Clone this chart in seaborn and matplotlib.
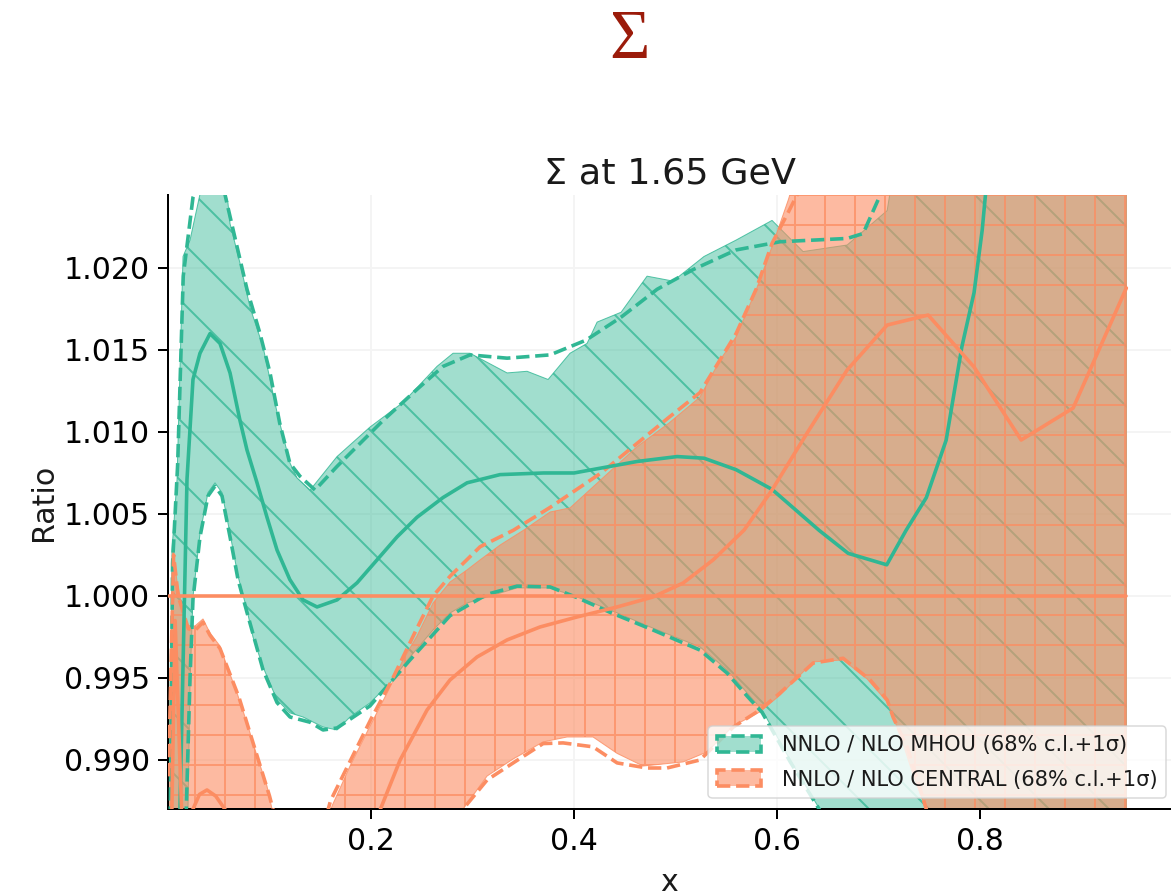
import numpy as np
import matplotlib
matplotlib.use("Agg")
import matplotlib.pyplot as plt
import matplotlib.colors as mcolors
from matplotlib.patches import Patch
from matplotlib.ticker import MultipleLocator, FormatStrFormatter
import seaborn as sns

# ---------------- NNLO / NLO MHOU ----------------
mhou_cv_x = [0.0005, 0.0118, 0.0187, 0.0246, 0.0315, 0.0414, 0.0512, 0.0611, 0.0709, 0.0778,
             0.0877, 0.0975, 0.1074, 0.120, 0.133, 0.1468, 0.1665, 0.1862, 0.2059, 0.2256,
             0.2453, 0.2709, 0.2946, 0.3271, 0.370, 0.400, 0.4266, 0.462, 0.5015, 0.528,
             0.5596, 0.595, 0.6414, 0.670, 0.708, 0.727, 0.747, 0.7665, 0.782, 0.794,
             0.802, 0.812, 0.944]
mhou_cv = [0.9600, 0.9870, 1.0071, 1.0132, 1.0148, 1.0160, 1.0154, 1.0136, 1.0107, 1.0089,
           1.0069, 1.0048, 1.0028, 1.0010, 0.99976, 0.99933, 0.99976, 1.0008, 1.0022, 1.0036,
           1.0048, 1.0060, 1.0069, 1.0074, 1.0075, 1.0075, 1.0078, 1.0082, 1.0085, 1.0084,
           1.0077, 1.0065, 1.0040, 1.0026, 1.0019, 1.0040, 1.0060, 1.0095, 1.0152, 1.0185,
           1.0223, 1.0290, 1.0600]

mhou_hi_x = [0.0005, 0.0039, 0.0089, 0.0148, 0.0217, 0.0315, 0.045, 0.059, 0.0611, 0.0709,
             0.0808, 0.0936, 0.1074, 0.1202, 0.1271, 0.140, 0.1665, 0.199, 0.2315, 0.265,
             0.2808, 0.2975, 0.334, 0.3537, 0.3744, 0.396, 0.4128, 0.4227, 0.4463, 0.4719,
             0.4975, 0.528, 0.5596, 0.595, 0.6256, 0.669, 0.7084, 0.711, 0.750, 0.944]
mhou_hi = [0.9750, 1.0028, 1.0071, 1.0207, 1.0217, 1.0245, 1.0270, 1.0240, 1.0227, 1.0203,
           1.0176, 1.0152, 1.0112, 1.0081, 1.0072, 1.00646, 1.0085, 1.0103, 1.0118, 1.0140,
           1.0148, 1.0148, 1.0136, 1.0137, 1.0132, 1.0148, 1.0154, 1.0167, 1.0173, 1.0195,
           1.0192, 1.0207, 1.0217, 1.0229, 1.0210, 1.0214, 1.0235, 1.0245, 1.0320, 1.0400]

mhou_lo_x = [0.0005, 0.0197, 0.0217, 0.0246, 0.0315, 0.0394, 0.0463, 0.0532, 0.0611, 0.069,
             0.0778, 0.0837, 0.0936, 0.1074, 0.1202, 0.133, 0.1527, 0.1665, 0.1793, 0.199,
             0.2187, 0.2384, 0.2611, 0.2778, 0.2946, 0.3143, 0.3438, 0.3764, 0.403, 0.4355,
             0.4749, 0.5241, 0.5507, 0.5704, 0.5852, 0.6128, 0.6424, 0.700, 0.944]
mhou_lo = [0.9600, 0.9870, 0.9947, 0.99994, 1.0038, 1.0063, 1.0069, 1.0063, 1.0038, 1.0012,
           0.99915, 0.9975, 0.99567, 0.99366, 0.99287, 0.99262, 0.99201, 0.99183, 0.99262, 0.99348,
           0.9947, 0.99628, 0.99793, 0.99896, 0.99957, 0.99994, 1.00049, 1.00049, 0.99994, 0.99915,
           0.99811, 0.99689, 0.99549, 0.99409, 0.99305, 0.9900, 0.98695, 0.9800, 0.9750]

mhou_sd_hi_x = [0.0005, 0.0045, 0.0095, 0.0150, 0.0246, 0.045, 0.059, 0.068, 0.0778, 0.0906,
                0.1005, 0.110, 0.120, 0.130, 0.1448, 0.1665, 0.2118, 0.2453, 0.271, 0.2975,
                0.334, 0.3764, 0.4118, 0.4463, 0.4818, 0.5172, 0.5596, 0.603, 0.669, 0.6847,
                0.7005, 0.740, 0.944]
mhou_sd_hi = [0.9750, 1.0020, 1.0080, 1.0195, 1.0243, 1.0275, 1.0237, 1.0213, 1.0187, 1.0160,
              1.0136, 1.01055, 1.0081, 1.0073, 1.00646, 1.0079, 1.0107, 1.0126, 1.0140, 1.0147,
              1.0145, 1.0147, 1.0156, 1.0170, 1.0187, 1.0199, 1.0211, 1.0216, 1.0218, 1.0221,
              1.0243, 1.0320, 1.0400]

mhou_sd_lo_x = [0.0005, 0.0180, 0.0217, 0.0246, 0.0315, 0.0394, 0.0463, 0.0532, 0.0611, 0.069,
                0.0778, 0.0936, 0.1074, 0.1202, 0.140, 0.1527, 0.1665, 0.199, 0.2384, 0.2778,
                0.3143, 0.3438, 0.3764, 0.403, 0.4355, 0.4749, 0.5241, 0.5507, 0.5704, 0.5852,
                0.6128, 0.6424, 0.700, 0.944]
mhou_sd_lo = [0.9600, 0.9870, 0.9950, 0.9998, 1.0036, 1.0061, 1.0067, 1.0061, 1.0036, 1.0010,
              0.9990, 0.9955, 0.9935, 0.99262, 0.9923, 0.99183, 0.99195, 0.9933, 0.9961, 0.9988,
              1.0001, 1.0006, 1.00055, 0.9999, 0.9990, 0.9980, 0.9967, 0.9953, 0.9939, 0.9929,
              0.9899, 0.9869, 0.9800, 0.9750]

# ---------------- NNLO / NLO CENTRAL ----------------
cen_cv_x = [0.0005, 0.0070, 0.0150, 0.0246, 0.0310, 0.0384, 0.0470, 0.056, 0.080, 0.150,
            0.2089, 0.2286, 0.2552, 0.2778, 0.3044, 0.334, 0.3665, 0.403, 0.4424, 0.4778,
            0.5074, 0.537, 0.5675, 0.595, 0.6296, 0.669, 0.7084, 0.7488, 0.794, 0.8404,
            0.8916, 0.944]
cen_cv = [0.9750, 0.9985, 0.9840, 0.9870, 0.9879, 0.98817, 0.9878, 0.9870, 0.9830, 0.9780,
          0.98695, 0.98999, 0.99305, 0.99488, 0.99628, 0.99732, 0.99811, 0.99872, 0.99933, 0.99994,
          1.00079, 1.0022, 1.00402, 1.00646, 1.00994, 1.01378, 1.01652, 1.01713, 1.01396, 1.00951,
          1.01146, 1.01878]

cen_hi_x = [0.0005, 0.0049, 0.009, 0.0138, 0.0197, 0.0266, 0.0345, 0.0414, 0.0512, 0.0581,
            0.068, 0.0778, 0.0877, 0.0975, 0.1025, 0.125, 0.145, 0.1616, 0.1793, 0.199,
            0.2158, 0.2315, 0.2453, 0.2611, 0.2778, 0.2946, 0.3074, 0.327, 0.350, 0.3764,
            0.396, 0.4266, 0.462, 0.4936, 0.524, 0.5438, 0.5596, 0.5793, 0.595, 0.611,
            0.630, 0.944]
cen_hi = [0.9900, 1.0030, 1.0008, 0.9994, 0.9982, 0.99817, 0.9986, 0.99774, 0.99695, 0.99573,
          0.99409, 0.99226, 0.99024, 0.98841, 0.9870, 0.9835, 0.9838, 0.9872, 0.98963, 0.99207,
          0.99409, 0.9961, 0.99756, 0.99957, 1.00085, 1.00159, 1.0022, 1.0031, 1.0040, 1.00512,
          1.00537, 1.0071, 1.0091, 1.01055, 1.01213, 1.01439, 1.0158, 1.01866, 1.0213, 1.02415,
          1.0280, 1.0400]

cen_lo_x = [0.0005, 0.150, 0.250, 0.2906, 0.3143, 0.340, 0.3695, 0.393, 0.4187, 0.4424,
            0.468, 0.5074, 0.531, 0.5567, 0.583, 0.603, 0.6355, 0.665, 0.6887, 0.7084,
            0.7212, 0.734, 0.7478, 0.800, 0.944]
cen_lo = [0.9500, 0.9600, 0.9780, 0.9870, 0.98902, 0.99006, 0.9911, 0.9914, 0.9914, 0.9904,
          0.98963, 0.98988, 0.99049, 0.99207, 0.99293, 0.99396, 0.99598, 0.9961, 0.99494, 0.99354,
          0.99152, 0.98909, 0.98683, 0.9750, 0.9650]

cen_sd_hi_x = [0.0005, 0.0055, 0.010, 0.015, 0.020, 0.0266, 0.0345, 0.0414, 0.0512, 0.060,
               0.070, 0.080, 0.090, 0.100, 0.105, 0.125, 0.145, 0.160, 0.180, 0.200,
               0.220, 0.245, 0.2611, 0.2778, 0.3074, 0.340, 0.3764, 0.4266, 0.462, 0.4936,
               0.524, 0.5438, 0.5596, 0.5793, 0.595, 0.611, 0.620, 0.650, 0.944]
cen_sd_hi = [0.9890, 1.0025, 1.0000, 0.9990, 0.9980, 0.9979, 0.9984, 0.9976, 0.9968, 0.9954,
             0.9938, 0.9918, 0.9898, 0.9878, 0.9866, 0.9833, 0.9840, 0.9875, 0.9900, 0.9925,
             0.9948, 0.9980, 1.0000, 1.0012, 1.0030, 1.0040, 1.0054, 1.0075, 1.0093, 1.0109,
             1.0124, 1.0144, 1.0160, 1.0187, 1.0215, 1.0234, 1.0245, 1.0290, 1.0400]

cen_sd_lo_x = [0.0005, 0.150, 0.250, 0.2906, 0.3143, 0.340, 0.3695, 0.3892, 0.4187, 0.4424,
               0.4719, 0.4916, 0.5241, 0.5567, 0.583, 0.603, 0.6355, 0.665, 0.6916, 0.7084,
               0.7143, 0.7281, 0.7478, 0.800, 0.944]
cen_sd_lo = [0.9500, 0.9600, 0.9780, 0.9870, 0.98878, 0.98982, 0.9910, 0.99104, 0.9908, 0.98982,
             0.98951, 0.98951, 0.9900, 0.9920, 0.99305, 0.99409, 0.99591, 0.9962, 0.99488, 0.99366,
             0.9926, 0.99079, 0.98683, 0.9750, 0.9650]

# reference ratio
ref_x = [0.0005, 0.944]
ref_ratio = [1.0, 1.0]

x_ticks = [0.2, 0.4, 0.6, 0.8]
legend_labels = ["NNLO / NLO MHOU (68% c.l.+1\u03c3)", "NNLO / NLO CENTRAL (68% c.l.+1\u03c3)"]

# ---------------- style ----------------
DPI = 360
PT = 72.0 / DPI  # points per pixel

sns.set_theme(style="ticks", rc={
    "axes.grid": True,
    "grid.color": "#f4f4f4",
    "grid.linewidth": 2 * PT,
    "axes.edgecolor": "black",
    "axes.linewidth": 2 * PT,
    "axes.axisbelow": True,
    "xtick.major.size": 10 * PT,
    "ytick.major.size": 10 * PT,
    "xtick.major.width": 2 * PT,
    "ytick.major.width": 2 * PT,
    "xtick.major.pad": 8 * PT,
    "ytick.major.pad": 8 * PT,
    "xtick.color": "black",
    "ytick.color": "black",
    "text.color": "#1a1a1a",
    "axes.labelcolor": "#1a1a1a",
    "hatch.linewidth": 2 * PT,
})
plt.rcParams["font.family"] = ["DejaVu Sans"]

teal = "#30b794"
orange = "#fc8d62"
teal_alpha = 0.45
orange_alpha = 0.6
hatch_alpha = 0.75
lw_line = 3.6 * PT

fig = plt.figure(figsize=((1171 + 0.01) / DPI, (895 + 0.01) / DPI), dpi=DPI)
ax = fig.add_axes([168 / 1171, 1 - 809 / 895, (1171 - 168) / 1171, (809 - 195) / 895])


def band(xh, yh, xl, yl, color, alpha, hatch):
    """Closed polygon from the upper edge and the reversed lower edge, plus its hatching."""
    px = np.concatenate([xh, xl[::-1]])
    py = np.concatenate([yh, yl[::-1]])
    ax.fill(px, py, facecolor=mcolors.to_rgba(color, alpha),
            edgecolor=mcolors.to_rgba(color, 0.8), linewidth=1 * PT, zorder=2)
    ax.fill(px, py, facecolor="none", edgecolor=mcolors.to_rgba(color, hatch_alpha),
            hatch=hatch, linewidth=0, zorder=2)


band(mhou_hi_x, mhou_hi, mhou_lo_x, mhou_lo, teal, teal_alpha, "\\\\")
band(cen_hi_x, cen_hi, cen_lo_x, cen_lo, orange, orange_alpha, "++")

# 68% c.l. edges (dashed) and central values (solid)
for xs, ys in [(mhou_sd_hi_x, mhou_sd_hi), (mhou_sd_lo_x, mhou_sd_lo)]:
    sns.lineplot(x=xs, y=ys, ax=ax, color=teal, lw=lw_line, linestyle="--",
                 estimator=None, sort=False, legend=False, zorder=3)
for xs, ys in [(cen_sd_hi_x, cen_sd_hi), (cen_sd_lo_x, cen_sd_lo)]:
    sns.lineplot(x=xs, y=ys, ax=ax, color=orange, lw=lw_line, linestyle="--",
                 estimator=None, sort=False, legend=False, zorder=3)

sns.lineplot(x=mhou_cv_x, y=mhou_cv, ax=ax, color=teal, lw=lw_line,
             estimator=None, sort=False, legend=False, zorder=4)
sns.lineplot(x=cen_cv_x, y=cen_cv, ax=ax, color=orange, lw=lw_line,
             estimator=None, sort=False, legend=False, zorder=4)
sns.lineplot(x=ref_x, y=ref_ratio, ax=ax, color=orange, lw=lw_line,
             estimator=None, sort=False, legend=False, zorder=4)

ax.set_xlim(0.0, 0.988)
ax.set_ylim(0.98701, 1.02445)
ax.set_xticks(x_ticks)
ax.xaxis.set_major_formatter(FormatStrFormatter("%.1f"))
ax.yaxis.set_major_locator(MultipleLocator(0.005))
ax.yaxis.set_major_formatter(FormatStrFormatter("%.3f"))
ax.tick_params(labelsize=6.0)

ax.set_xlabel("x", fontsize=6.0, labelpad=12 * PT)
ax.set_ylabel("Ratio", fontsize=6.0, labelpad=6 * PT)
ax.set_title("\u03a3 at 1.65 GeV", fontsize=7.3, pad=12 * PT)
sns.despine(ax=ax)

handles = [
    Patch(facecolor=mcolors.to_rgba(teal, teal_alpha), edgecolor=teal,
          linestyle="--", linewidth=lw_line),
    Patch(facecolor=mcolors.to_rgba(orange, orange_alpha), edgecolor=orange,
          linestyle="--", linewidth=lw_line),
]
leg = ax.legend(handles, legend_labels, loc="lower right",
                bbox_to_anchor=(1166 / 1171, 1 - 798 / 895), bbox_transform=fig.transFigure,
                borderaxespad=0, fontsize=4.2, frameon=True, framealpha=0.8,
                edgecolor="#d0d0d0", fancybox=True, handlelength=2.1, handleheight=0.8,
                handletextpad=1.0, labelspacing=0.7)
leg.get_frame().set_linewidth(1.5 * PT)

# panel heading
fig.text(629 / 1171, 1 - 58 / 895, "\u03a3", family="Liberation Serif",
         fontsize=13.9, color="#9b1b0a", ha="center", va="baseline")

fig.savefig("out.png", dpi=DPI)
